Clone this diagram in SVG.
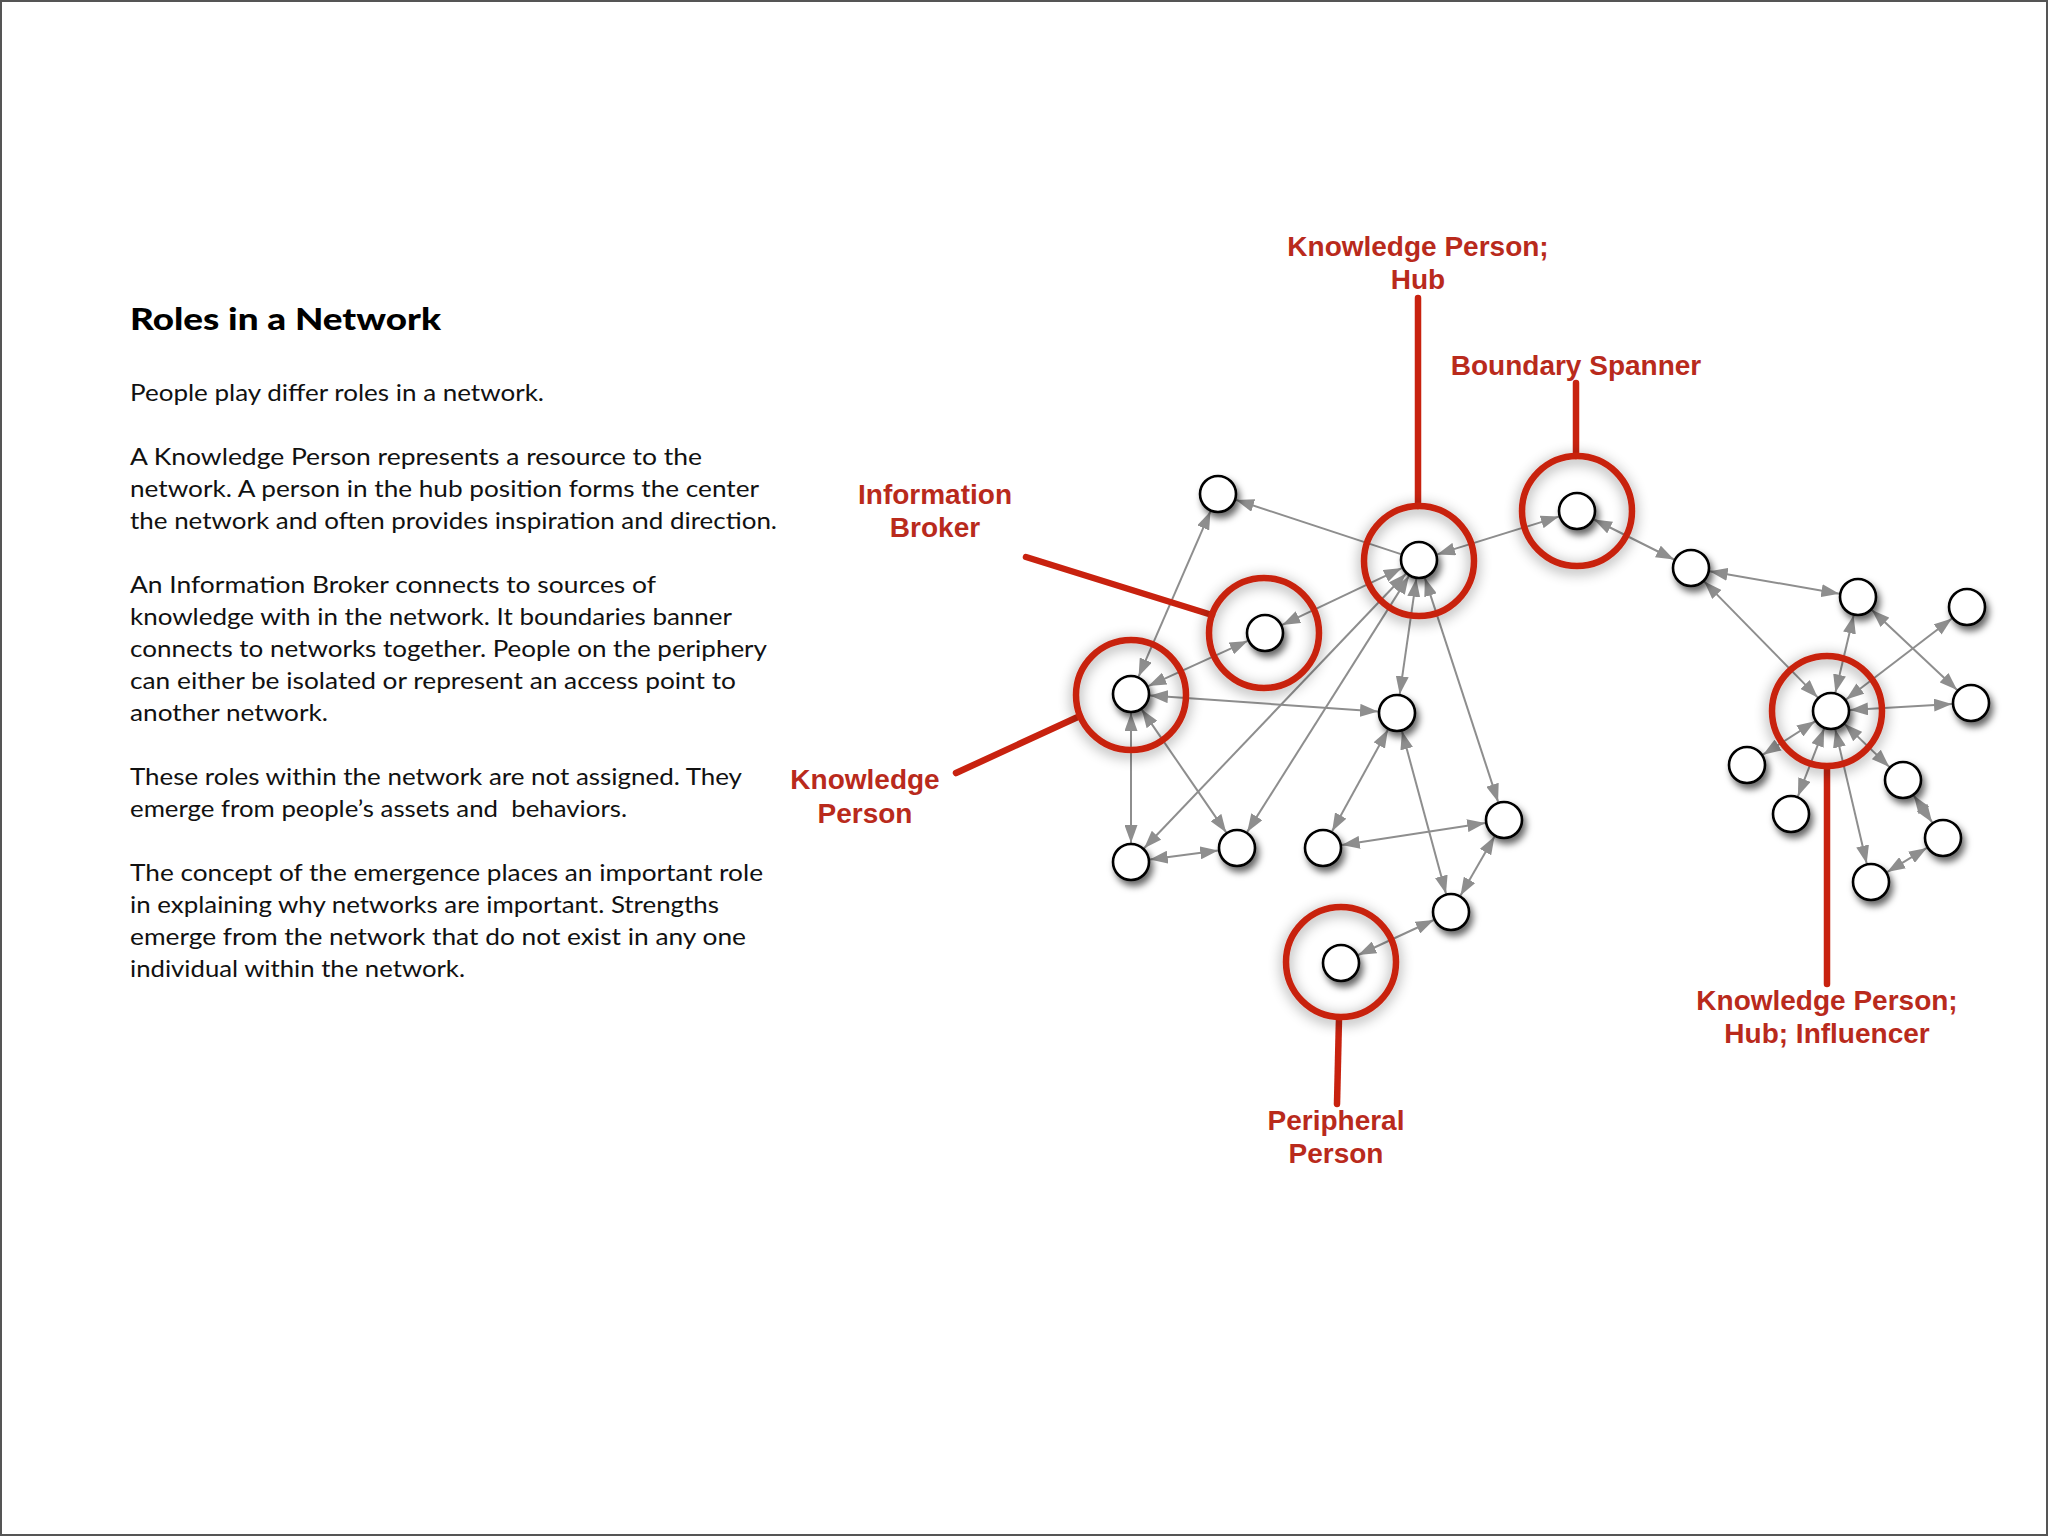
<svg xmlns="http://www.w3.org/2000/svg" width="2048" height="1536" viewBox="0 0 2048 1536">
<style>
.body{font-family:Lato,"Open Sans","Liberation Sans",sans-serif;font-size:23px;fill:#111}
.title{font-family:Lato,"Open Sans","Liberation Sans",sans-serif;font-size:30px;font-weight:900;fill:#000}
.lbl{font-family:"Liberation Sans",Arial,sans-serif;font-size:28px;font-weight:bold;fill:#B92A1C;text-anchor:middle}
.edge{stroke:#8e8e8e;stroke-width:2;fill:none}
.dbl{marker-start:url(#ah);marker-end:url(#ah)}
.one{marker-end:url(#ah)}
.node{fill:#fff;stroke:#000;stroke-width:2.6;filter:url(#nsh)}
.ring{fill:none;stroke:#C8220F;stroke-width:6.5;filter:url(#rsh)}
.lead{stroke:#C8220F;stroke-width:6.5;stroke-linecap:round;fill:none}
</style>
<defs>
<marker id="ah" viewBox="0 0 18 13" refX="18" refY="6.5" markerWidth="18" markerHeight="13" markerUnits="userSpaceOnUse" orient="auto-start-reverse">
<path d="M0,0 L18,6.5 L0,13 z" fill="#8e8e8e"/>
</marker>
<filter id="nsh" x="-50%" y="-50%" width="200%" height="200%">
<feDropShadow dx="3" dy="5" stdDeviation="3.5" flood-color="#000" flood-opacity="0.6"/>
</filter>
<filter id="rsh" x="-30%" y="-30%" width="160%" height="160%">
<feDropShadow dx="0" dy="3" stdDeviation="7" flood-color="#000" flood-opacity="0.45"/>
</filter>
</defs>
<rect x="1" y="1" width="2046" height="1534" fill="#fff" stroke="#555" stroke-width="2"/>

<g id="text-panel">
<text class="title" x="130" y="330" textLength="311" lengthAdjust="spacingAndGlyphs">Roles in a Network</text>
<text class="body" x="130" y="401" textLength="414" lengthAdjust="spacingAndGlyphs">People play differ roles in a network.</text>
<text class="body" x="130" y="465" textLength="572" lengthAdjust="spacingAndGlyphs">A Knowledge Person represents a resource to the</text>
<text class="body" x="130" y="497" textLength="629" lengthAdjust="spacingAndGlyphs">network. A person in the hub position forms the center</text>
<text class="body" x="130" y="529" textLength="647" lengthAdjust="spacingAndGlyphs">the network and often provides inspiration and direction.</text>
<text class="body" x="130" y="593" textLength="526" lengthAdjust="spacingAndGlyphs">An Information Broker connects to sources of</text>
<text class="body" x="130" y="625" textLength="602" lengthAdjust="spacingAndGlyphs">knowledge with in the network. It boundaries banner</text>
<text class="body" x="130" y="657" textLength="637" lengthAdjust="spacingAndGlyphs">connects to networks together. People on the periphery</text>
<text class="body" x="130" y="689" textLength="606" lengthAdjust="spacingAndGlyphs">can either be isolated or represent an access point to</text>
<text class="body" x="130" y="721" textLength="198" lengthAdjust="spacingAndGlyphs">another network.</text>
<text class="body" x="130" y="785" textLength="612" lengthAdjust="spacingAndGlyphs">These roles within the network are not assigned. They</text>
<text class="body" x="130" y="817" textLength="497" lengthAdjust="spacingAndGlyphs" xml:space="preserve">emerge from people’s assets and  behaviors.</text>
<text class="body" x="130" y="881" textLength="633" lengthAdjust="spacingAndGlyphs">The concept of the emergence places an important role</text>
<text class="body" x="130" y="913" textLength="589" lengthAdjust="spacingAndGlyphs">in explaining why networks are important. Strengths</text>
<text class="body" x="130" y="945" textLength="616" lengthAdjust="spacingAndGlyphs">emerge from the network that do not exist in any one</text>
<text class="body" x="130" y="977" textLength="335" lengthAdjust="spacingAndGlyphs">individual within the network.</text>
</g>

<g id="connectors">
<line class="edge one" x1="1400.9" y1="554.1" x2="1236.1" y2="499.9"/>
<line class="edge dbl" x1="1210.4" y1="511.4" x2="1138.6" y2="676.6"/>
<line class="edge dbl" x1="1401.8" y1="568.1" x2="1282.2" y2="624.9"/>
<line class="edge dbl" x1="1148.3" y1="686.1" x2="1247.7" y2="640.9"/>
<line class="edge dbl" x1="1437.1" y1="554.4" x2="1558.9" y2="516.6"/>
<line class="edge dbl" x1="1150" y1="695.4" x2="1378" y2="711.6"/>
<line class="edge dbl" x1="1405.9" y1="573.8" x2="1144.1" y2="848.3"/>
<line class="edge dbl" x1="1408.9" y1="576.1" x2="1247.2" y2="831.9"/>
<line class="edge dbl" x1="1416.3" y1="578.8" x2="1399.7" y2="694.2"/>
<line class="edge dbl" x1="1424.9" y1="578.1" x2="1498.1" y2="801.9"/>
<line class="edge dbl" x1="1131" y1="713" x2="1131" y2="843"/>
<line class="edge dbl" x1="1141.8" y1="709.6" x2="1226.2" y2="832.4"/>
<line class="edge dbl" x1="1149.8" y1="859.5" x2="1218.2" y2="850.5"/>
<line class="edge dbl" x1="1387.9" y1="729.7" x2="1332.1" y2="831.3"/>
<line class="edge dbl" x1="1402" y1="731.3" x2="1446" y2="893.7"/>
<line class="edge dbl" x1="1341.8" y1="845.1" x2="1485.2" y2="822.9"/>
<line class="edge dbl" x1="1494.5" y1="836.5" x2="1460.5" y2="895.5"/>
<line class="edge dbl" x1="1358.2" y1="955" x2="1433.8" y2="920"/>
<line class="edge dbl" x1="1594" y1="519.5" x2="1674" y2="559.5"/>
<line class="edge dbl" x1="1709.7" y1="571.3" x2="1839.3" y2="593.7"/>
<line class="edge dbl" x1="1704.3" y1="581.6" x2="1817.7" y2="697.4"/>
<line class="edge dbl" x1="1853.6" y1="615.5" x2="1835.4" y2="692.5"/>
<line class="edge dbl" x1="1846.1" y1="699.5" x2="1951.9" y2="618.5"/>
<line class="edge dbl" x1="1871.9" y1="610" x2="1957.1" y2="690"/>
<line class="edge dbl" x1="1850" y1="709.9" x2="1952" y2="704.1"/>
<line class="edge dbl" x1="1815" y1="721.3" x2="1763" y2="754.7"/>
<line class="edge dbl" x1="1824.1" y1="728.7" x2="1797.9" y2="796.3"/>
<line class="edge dbl" x1="1835.3" y1="729.5" x2="1866.7" y2="863.5"/>
<line class="edge dbl" x1="1844.7" y1="724.1" x2="1889.3" y2="766.9"/>
<line class="edge dbl" x1="1913.8" y1="795.6" x2="1932.2" y2="822.4"/>
<line class="edge dbl" x1="1926.8" y1="847.9" x2="1887.2" y2="872.1"/>
</g>

<g id="callouts">
<g id="callout-hub">
<line class="lead" x1="1418" y1="298" x2="1418" y2="506"/>
<circle class="ring" cx="1419" cy="561" r="55"/>
<text class="lbl" x="1418" y="256">Knowledge Person;</text>
<text class="lbl" x="1418" y="289">Hub</text>
</g>
<g id="callout-boundary">
<line class="lead" x1="1576" y1="383" x2="1576" y2="456"/>
<circle class="ring" cx="1577" cy="511" r="55"/>
<text class="lbl" x="1576" y="375">Boundary Spanner</text>
</g>
<g id="callout-broker">
<line class="lead" x1="1026" y1="557" x2="1212" y2="615"/>
<circle class="ring" cx="1264" cy="633" r="55"/>
<text class="lbl" x="935" y="504">Information</text>
<text class="lbl" x="935" y="537">Broker</text>
</g>
<g id="callout-knowledge">
<line class="lead" x1="956" y1="773" x2="1080" y2="716"/>
<circle class="ring" cx="1131" cy="695" r="55"/>
<text class="lbl" x="865" y="789">Knowledge</text>
<text class="lbl" x="865" y="823">Person</text>
</g>
<g id="callout-peripheral">
<line class="lead" x1="1339" y1="1018" x2="1337" y2="1104"/>
<circle class="ring" cx="1341" cy="962" r="55"/>
<text class="lbl" x="1336" y="1130">Peripheral</text>
<text class="lbl" x="1336" y="1163">Person</text>
</g>
<g id="callout-influencer">
<line class="lead" x1="1827" y1="767" x2="1827" y2="984"/>
<circle class="ring" cx="1827" cy="711" r="55"/>
<text class="lbl" x="1827" y="1010">Knowledge Person;</text>
<text class="lbl" x="1827" y="1043">Hub; Influencer</text>
</g>
</g>

<g id="node-n1"><circle class="node" cx="1218" cy="494" r="18"/></g>
<g id="node-hub"><circle class="node" cx="1419" cy="560" r="18"/></g>
<g id="node-broker"><circle class="node" cx="1265" cy="633" r="18"/></g>
<g id="node-knowledge"><circle class="node" cx="1131" cy="694" r="18"/></g>
<g id="node-m"><circle class="node" cx="1397" cy="713" r="18"/></g>
<g id="node-bl1"><circle class="node" cx="1131" cy="862" r="18"/></g>
<g id="node-bl2"><circle class="node" cx="1237" cy="848" r="18"/></g>
<g id="node-bm"><circle class="node" cx="1323" cy="848" r="18"/></g>
<g id="node-br"><circle class="node" cx="1504" cy="820" r="18"/></g>
<g id="node-p2"><circle class="node" cx="1451" cy="912" r="18"/></g>
<g id="node-peripheral"><circle class="node" cx="1341" cy="963" r="18"/></g>
<g id="node-boundary"><circle class="node" cx="1577" cy="511" r="18"/></g>
<g id="node-n1b"><circle class="node" cx="1691" cy="568" r="18"/></g>
<g id="node-n2"><circle class="node" cx="1858" cy="597" r="18"/></g>
<g id="node-n3"><circle class="node" cx="1967" cy="607" r="18"/></g>
<g id="node-influencer"><circle class="node" cx="1831" cy="711" r="18"/></g>
<g id="node-n4"><circle class="node" cx="1971" cy="703" r="18"/></g>
<g id="node-n5"><circle class="node" cx="1747" cy="765" r="18"/></g>
<g id="node-n6"><circle class="node" cx="1791" cy="814" r="18"/></g>
<g id="node-n7"><circle class="node" cx="1903" cy="780" r="18"/></g>
<g id="node-n8"><circle class="node" cx="1943" cy="838" r="18"/></g>
<g id="node-n9"><circle class="node" cx="1871" cy="882" r="18"/></g>
</svg>
